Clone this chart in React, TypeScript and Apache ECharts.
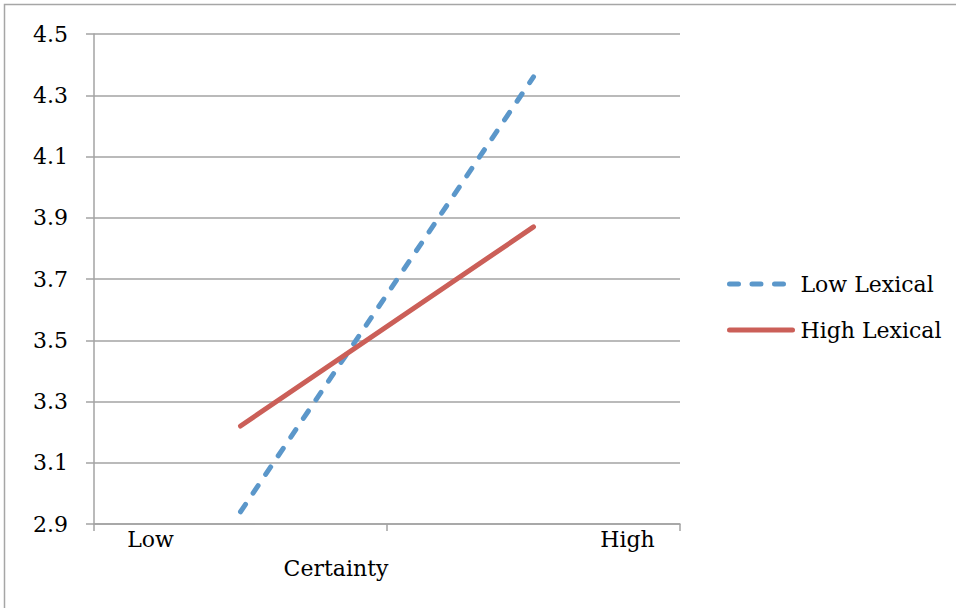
import React, { useEffect, useRef } from "react";
import * as echarts from "echarts";

const categories = ["Low", "High"];
const lowLexical = [2.94, 4.36];
const highLexical = [3.22, 3.87];
const yTicks = { min: 2.9, max: 4.5, interval: 0.2 };

const FONT = "DejaVu Serif";
const BLUE = "#5b97ca";
const RED = "#cb5f58";
const GRID = "#a3a3a3";

export default function App() {
  const ref = useRef<HTMLDivElement>(null);

  useEffect(() => {
    document.body.style.margin = "0";
    const chart = echarts.init(ref.current!, null, { renderer: "svg" });
    chart.setOption({
      animation: false,
      backgroundColor: "#ffffff",
      textStyle: { fontFamily: FONT, color: "#000" },
      graphic: [
        {
          type: "rect",
          shape: { x: 4.5, y: 4.5, width: 1000, height: 700 },
          style: { fill: "none", stroke: "#a6a6a6", lineWidth: 1.5 },
          silent: true,
        },
      ],
      grid: { left: 94, right: 276, top: 34, bottom: 84 },
      legend: {
        orient: "vertical",
        left: 722,
        top: 268,
        itemWidth: 63,
        itemHeight: 14,
        itemGap: 24,
        itemStyle: { opacity: 0 },
        lineStyle: { width: 5, cap: "round" },
        textStyle: { fontFamily: FONT, fontSize: 22, color: "#000", padding: [0, 0, 0, 3] },
        data: ["Low Lexical", "High Lexical"],
      },
      xAxis: {
        type: "category",
        data: categories,
        boundaryGap: true,
        name: "Certainty",
        nameLocation: "middle",
        nameGap: 33,
        nameTextStyle: { fontFamily: FONT, fontSize: 22, color: "#000", padding: [0, 102, 0, 0] },
        axisLine: { lineStyle: { color: GRID, width: 1.5 } },
        axisTick: { show: true, length: 7, lineStyle: { color: GRID, width: 1.5 } },
        axisLabel: {
          margin: 4,
          fontFamily: FONT,
          fontSize: 22,
          color: "#000",
          formatter: (v: string) => (v === "Low" ? `{l|${v}}` : `{h|${v}}`),
          rich: {
            l: { fontFamily: FONT, fontSize: 22, color: "#000", padding: [0, 180, 0, 0] },
            h: { fontFamily: FONT, fontSize: 22, color: "#000", padding: [0, 0, 0, 188] },
          },
        },
      },
      yAxis: {
        type: "value",
        min: yTicks.min,
        max: yTicks.max,
        interval: yTicks.interval,
        axisLine: { show: true, lineStyle: { color: GRID, width: 1.5 } },
        axisTick: { show: true, length: 8, lineStyle: { color: GRID, width: 1.5 } },
        splitLine: { lineStyle: { color: GRID, width: 1.5 } },
        axisLabel: {
          margin: 26,
          fontFamily: FONT,
          fontSize: 22,
          color: "#000",
          formatter: (v: number) => v.toFixed(1),
        },
      },
      series: [
        {
          name: "Low Lexical",
          type: "line",
          data: lowLexical,
          symbol: "none",
          color: BLUE,
          lineStyle: { color: BLUE, width: 5, type: [9, 13.5], cap: "round" },
        },
        {
          name: "High Lexical",
          type: "line",
          data: highLexical,
          symbol: "none",
          color: RED,
          lineStyle: { color: RED, width: 5, cap: "round" },
        },
      ],
    });
    return () => chart.dispose();
  }, []);

  return <div ref={ref} style={{ width: 956, height: 608 }} />;
}
